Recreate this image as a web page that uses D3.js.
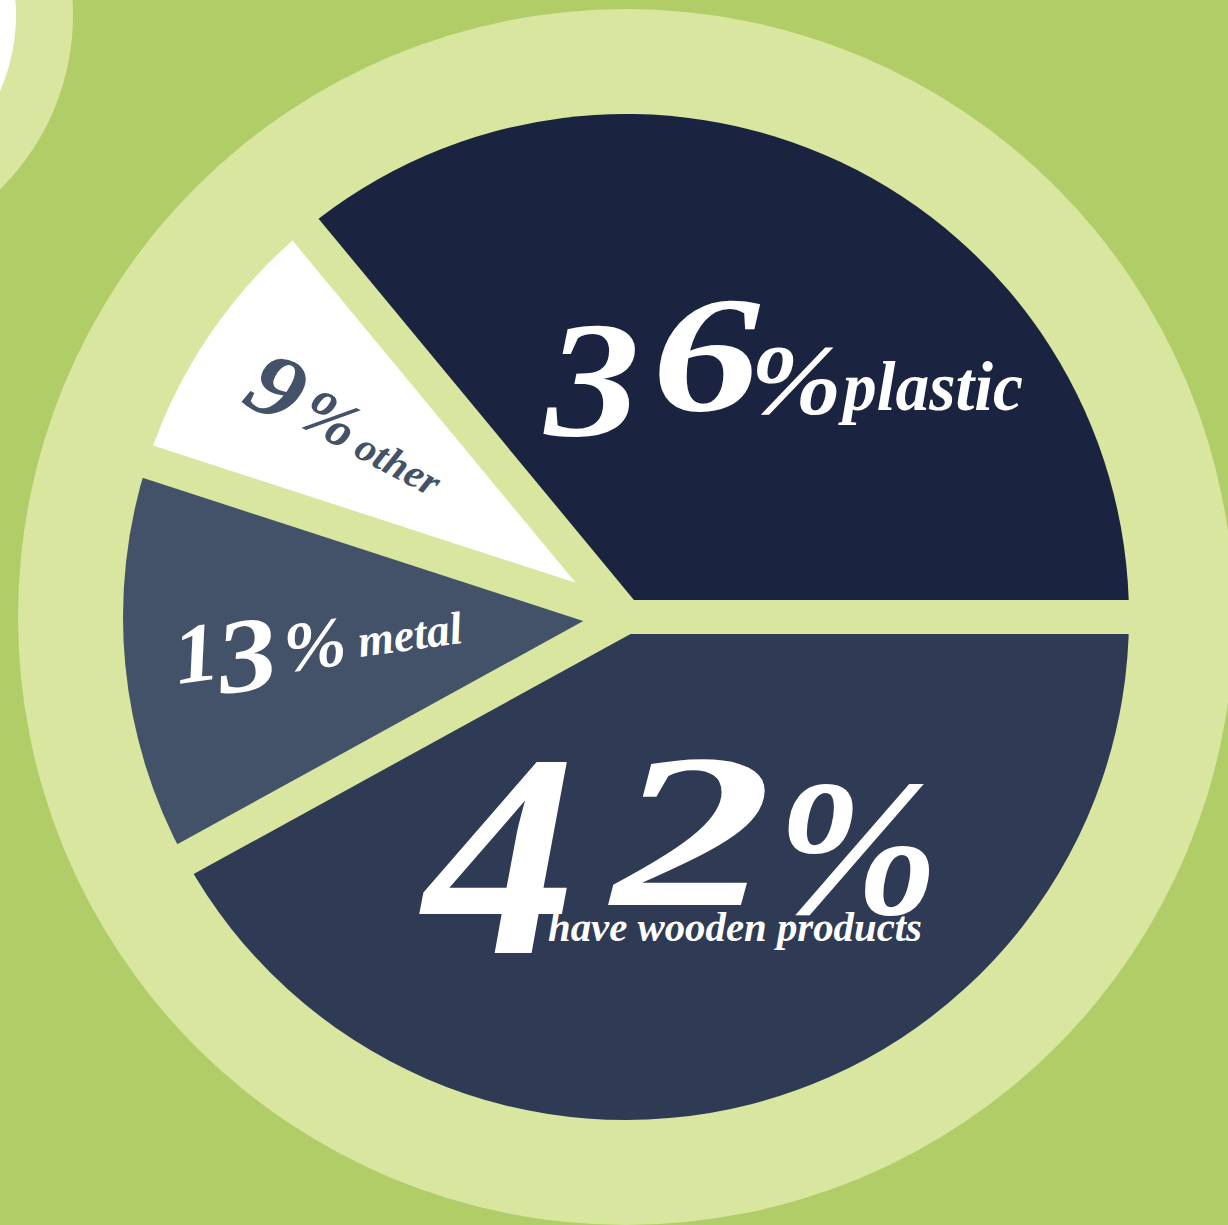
<!DOCTYPE html>
<html>
<head>
<meta charset="utf-8">
<script src="https://cdn.jsdelivr.net/npm/d3@7"></script>
<style>
body { margin: 0; background: #b0cd68; }
svg { display: block; }
text { font-family: "Liberation Serif", serif; font-weight: bold; font-style: italic; }
</style>
</head>
<body>
<svg id="chart" width="1228" height="1225"></svg>
<script>
// data
const categories = ["plastic", "wooden", "metal", "other"];
const values = [36, 42, 13, 9];
const numberLabels = ["36", "42", "13", "9"];
const wordLabels = ["plastic", "have wooden products", "metal", "other"];

const width = 1228, height = 1225;
const cx = 626, cy = 617;
const ringR = 608, outerR = 503, gap = 34;
const light = "#d9e6a0";

const svg = d3.select("#chart");
svg.append("rect").attr("width", width).attr("height", height).attr("fill", "#b0cd68");

// corner decoration
svg.append("circle").attr("cx", -172).attr("cy", 15).attr("r", 245).attr("fill", light);
svg.append("circle").attr("cx", -172).attr("cy", 15).attr("r", 188).attr("fill", "#fff");

// big ring behind the pie
svg.append("circle").attr("cx", cx).attr("cy", cy).attr("r", ringR).attr("fill", light);

const color = d3.scaleOrdinal()
    .domain(categories)
    .range(["#1a2440", "#2f3b55", "#435268", "#ffffff"]);

const total = d3.sum(values);
const start = Math.PI / 2 - values[0] / total * 2 * Math.PI;
const pie = d3.pie().sort(null).startAngle(start).endAngle(start + 2 * Math.PI);
const arc = d3.arc().innerRadius(0).outerRadius(outerR);
const arcs = pie(values);

const g = svg.append("g").attr("transform", `translate(${cx},${cy})`);

g.selectAll("path.slice")
    .data(arcs)
    .join("path")
    .attr("class", "slice")
    .attr("d", arc)
    .attr("fill", (d, i) => color(categories[i]));

// gaps along slice boundaries
g.selectAll("line.gap")
    .data(arcs)
    .join("line")
    .attr("class", "gap")
    .attr("x1", 0).attr("y1", 0)
    .attr("x2", d => d3.pointRadial(d.startAngle, outerR + 20)[0])
    .attr("y2", d => d3.pointRadial(d.startAngle, outerR + 20)[1])
    .attr("stroke", light)
    .attr("stroke-width", gap);
g.append("circle").attr("r", gap / 2).attr("fill", light);

// label layout (pivot in page coords, parts in local coords)
const labelLayout = [
    { pivot: [0, 0], rotate: 0, fill: "#fff",
      digits: [{ x: 545, y: 435, size: 165, len: 95 }, { x: 652, y: 410, size: 165, len: 108 }],
      pct: { x: 750, y: 413, size: 100, len: 92 },
      word: { x: 843, y: 410, size: 70, len: 180 } },
    { pivot: [0, 0], rotate: 0, fill: "#fff",
      digits: [{ x: 424, y: 953, size: 290, len: 152 }, { x: 612, y: 905, size: 220, len: 160 }],
      pct: { x: 776, y: 913, size: 195, len: 163 },
      word: { x: 548, y: 941, size: 42, len: 374 } },
    { pivot: [360, 657], rotate: -7.8, fill: "#fff",
      digits: [{ x: -184, y: 2, size: 84, len: 44 }, { x: -142, y: 18, size: 105, len: 60 }],
      pct: { x: -74, y: 5, size: 70, len: 62 },
      word: { x: 0, y: 0, size: 46, len: 105 } },
    { pivot: [352, 455], rotate: 28, fill: "#435268",
      digits: [{ x: -124, y: 6, size: 92, len: 52 }],
      pct: { x: -64, y: -1, size: 64, len: 56 },
      word: { x: 0, y: 0, size: 40, len: 90 } }
];

labelLayout.forEach((L, i) => {
    const lg = svg.append("g")
        .attr("transform", `translate(${L.pivot[0]},${L.pivot[1]}) rotate(${L.rotate})`)
        .attr("fill", L.fill);
    numberLabels[i].split("").forEach((ch, k) => {
        const p = L.digits[k];
        lg.append("text").attr("x", p.x).attr("y", p.y)
            .attr("font-size", p.size)
            .attr("textLength", p.len)
            .attr("lengthAdjust", "spacingAndGlyphs")
            .text(ch);
    });
    lg.append("text").attr("x", L.pct.x).attr("y", L.pct.y)
        .attr("font-size", L.pct.size)
        .attr("textLength", L.pct.len)
        .attr("lengthAdjust", "spacingAndGlyphs")
        .text("%");
    lg.append("text").attr("x", L.word.x).attr("y", L.word.y)
        .attr("font-size", L.word.size)
        .attr("textLength", L.word.len)
        .attr("lengthAdjust", "spacingAndGlyphs")
        .text(wordLabels[i]);
});
</script>
</body>
</html>
